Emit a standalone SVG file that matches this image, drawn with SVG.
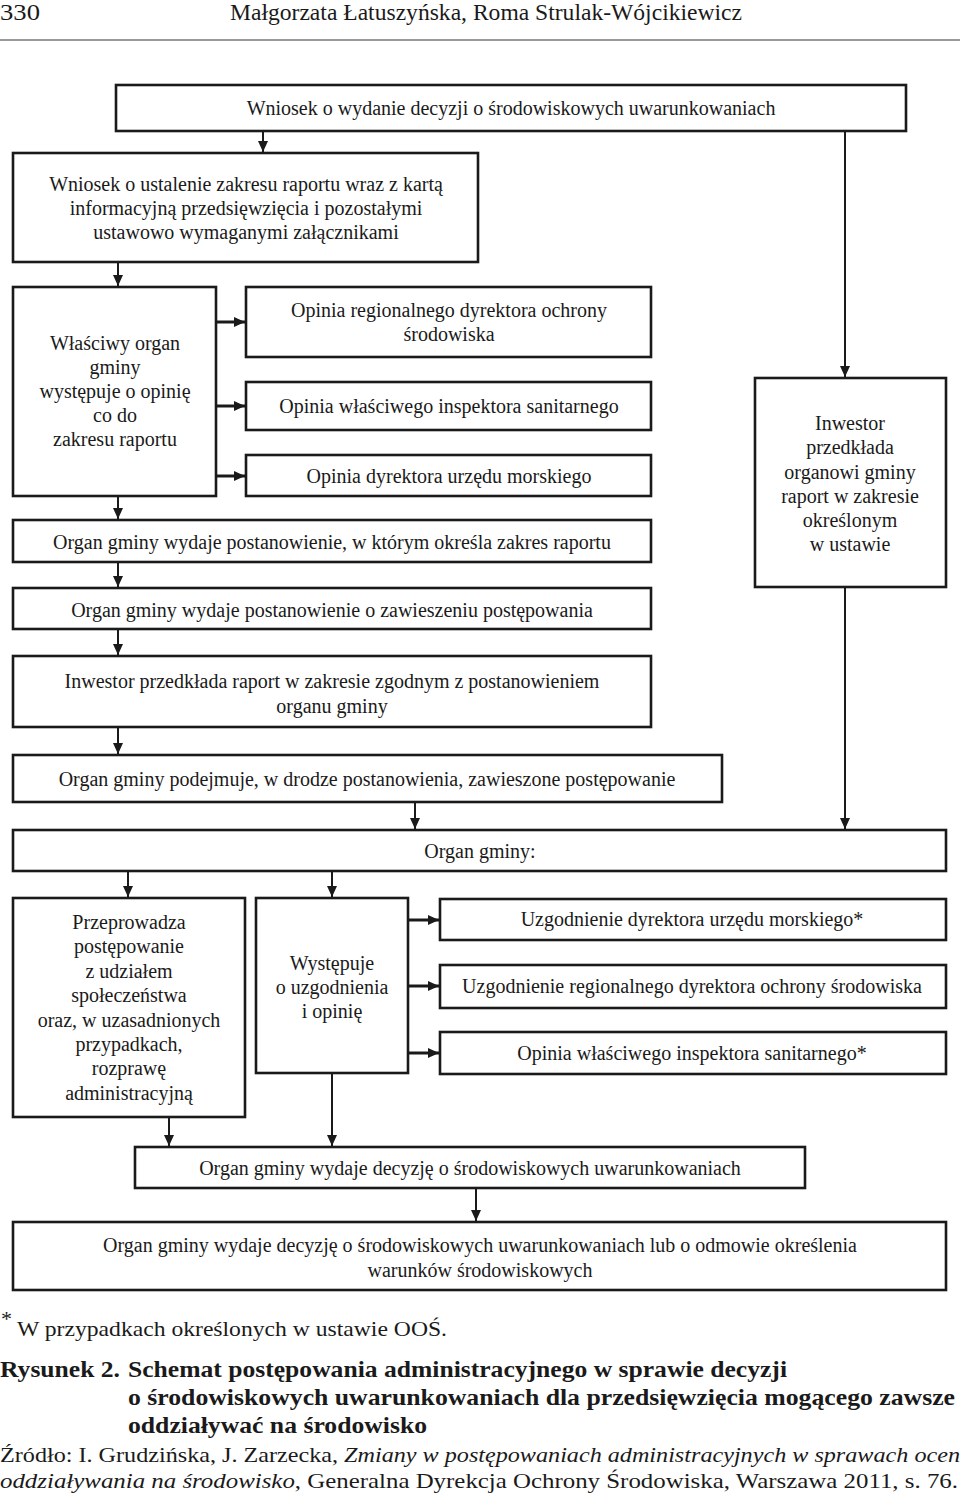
<svg xmlns="http://www.w3.org/2000/svg" width="960" height="1495" viewBox="0 0 960 1495">
<defs>
<marker id="ah" markerUnits="userSpaceOnUse" markerWidth="12" markerHeight="12" viewBox="0 0 12 12" refX="11" refY="6" orient="auto">
<path d="M0,1 L11,6 L0,11 Z" fill="#1a1a1a"/>
</marker>
</defs>
<style>
.box{fill:#fff;stroke:#1a1a1a;stroke-width:2.6}
.t{font-family:"Liberation Serif",serif;font-size:20px;fill:#1a1a1a;text-anchor:middle}
.c{stroke:#1a1a1a;stroke-width:2;fill:none;marker-end:url(#ah)}
.ch{stroke:#1a1a1a;stroke-width:3;fill:none;marker-end:url(#ah)}
.hd{font-family:"Liberation Serif",serif;font-size:23px;fill:#1a1a1a}
.cap{font-family:"Liberation Serif",serif;font-size:24px;font-weight:bold;fill:#1a1a1a}
.src{font-family:"Liberation Serif",serif;font-size:22px;fill:#1a1a1a}
</style>
<rect width="960" height="1495" fill="#fff"/>
<g id="header">
<text class="hd" x="0" y="20" textLength="40" lengthAdjust="spacingAndGlyphs">330</text>
<text class="hd" x="230" y="20" textLength="512" lengthAdjust="spacingAndGlyphs">Małgorzata Łatuszyńska, Roma Strulak-Wójcikiewicz</text>
<line x1="0" y1="40" x2="960" y2="40" stroke="#777" stroke-width="1.5"/>
</g>
<g id="connectors">
<line class="c" x1="263" y1="131" x2="263" y2="152"/>
<line class="c" x1="845" y1="131" x2="845" y2="377"/>
<line class="c" x1="118" y1="262" x2="118" y2="286"/>
<line class="ch" x1="216" y1="322" x2="245" y2="322"/>
<line class="ch" x1="216" y1="406" x2="245" y2="406"/>
<line class="ch" x1="216" y1="476" x2="245" y2="476"/>
<line class="c" x1="118" y1="496" x2="118" y2="519"/>
<line class="c" x1="118" y1="562" x2="118" y2="587"/>
<line class="c" x1="118" y1="629" x2="118" y2="655"/>
<line class="c" x1="118" y1="727" x2="118" y2="754"/>
<line class="c" x1="415" y1="802" x2="415" y2="829"/>
<line class="c" x1="845" y1="587" x2="845" y2="829"/>
<line class="c" x1="128" y1="871" x2="128" y2="897"/>
<line class="c" x1="332" y1="871" x2="332" y2="897"/>
<line class="ch" x1="408" y1="920" x2="439" y2="920"/>
<line class="ch" x1="408" y1="986" x2="439" y2="986"/>
<line class="ch" x1="408" y1="1053" x2="439" y2="1053"/>
<line class="c" x1="169" y1="1117" x2="169" y2="1146"/>
<line class="c" x1="332" y1="1073" x2="332" y2="1146"/>
<line class="c" x1="476" y1="1188" x2="476" y2="1221"/>
</g>
<g id="n1"><rect class="box" x="116" y="85" width="790" height="46"/><text class="t" x="511" y="115">Wniosek o wydanie decyzji o środowiskowych uwarunkowaniach</text></g>
<g id="n2"><rect class="box" x="13" y="153" width="465" height="109"/>
<text class="t" x="246" y="191">Wniosek o ustalenie zakresu raportu wraz z kartą</text>
<text class="t" x="246" y="215">informacyjną przedsięwzięcia i pozostałymi</text>
<text class="t" x="246" y="239">ustawowo wymaganymi załącznikami</text></g>
<g id="n3"><rect class="box" x="13" y="287" width="203" height="209"/>
<text class="t" x="115" y="350">Właściwy organ</text>
<text class="t" x="115" y="374">gminy</text>
<text class="t" x="115" y="398">występuje o opinię</text>
<text class="t" x="115" y="422">co do</text>
<text class="t" x="115" y="446">zakresu raportu</text></g>
<g id="n4"><rect class="box" x="246" y="287" width="405" height="70"/>
<text class="t" x="449" y="317">Opinia regionalnego dyrektora ochrony</text>
<text class="t" x="449" y="341">środowiska</text></g>
<g id="n5"><rect class="box" x="246" y="382" width="405" height="48"/><text class="t" x="449" y="413">Opinia właściwego inspektora sanitarnego</text></g>
<g id="n6"><rect class="box" x="246" y="455" width="405" height="41"/><text class="t" x="449" y="483">Opinia dyrektora urzędu morskiego</text></g>
<g id="n7"><rect class="box" x="13" y="520" width="638" height="42"/><text class="t" x="332" y="549">Organ gminy wydaje postanowienie, w którym określa zakres raportu</text></g>
<g id="n8"><rect class="box" x="13" y="588" width="638" height="41"/><text class="t" x="332" y="617">Organ gminy wydaje postanowienie o zawieszeniu postępowania</text></g>
<g id="n9"><rect class="box" x="13" y="656" width="638" height="71"/>
<text class="t" x="332" y="688">Inwestor przedkłada raport w zakresie zgodnym z postanowieniem</text>
<text class="t" x="332" y="713">organu gminy</text></g>
<g id="n10"><rect class="box" x="13" y="755" width="709" height="47"/><text class="t" x="367" y="786">Organ gminy podejmuje, w drodze postanowienia, zawieszone postępowanie</text></g>
<g id="n11"><rect class="box" x="755" y="378" width="191" height="209"/>
<text class="t" x="850" y="430">Inwestor</text>
<text class="t" x="850" y="454">przedkłada</text>
<text class="t" x="850" y="479">organowi gminy</text>
<text class="t" x="850" y="503">raport w zakresie</text>
<text class="t" x="850" y="527">określonym</text>
<text class="t" x="850" y="551">w ustawie</text></g>
<g id="n12"><rect class="box" x="13" y="830" width="933" height="41"/><text class="t" x="480" y="858">Organ gminy:</text></g>
<g id="n13"><rect class="box" x="13" y="898" width="232" height="219"/>
<text class="t" x="129" y="929">Przeprowadza</text>
<text class="t" x="129" y="953">postępowanie</text>
<text class="t" x="129" y="978">z udziałem</text>
<text class="t" x="129" y="1002">społeczeństwa</text>
<text class="t" x="129" y="1027">oraz, w uzasadnionych</text>
<text class="t" x="129" y="1051">przypadkach,</text>
<text class="t" x="129" y="1075">rozprawę</text>
<text class="t" x="129" y="1100">administracyjną</text></g>
<g id="n14"><rect class="box" x="256" y="898" width="152" height="175"/>
<text class="t" x="332" y="970">Występuje</text>
<text class="t" x="332" y="994">o uzgodnienia</text>
<text class="t" x="332" y="1018">i opinię</text></g>
<g id="n15"><rect class="box" x="440" y="899" width="506" height="41"/><text class="t" x="692" y="926">Uzgodnienie dyrektora urzędu morskiego*</text></g>
<g id="n16"><rect class="box" x="440" y="965" width="506" height="43"/><text class="t" x="692" y="993">Uzgodnienie regionalnego dyrektora ochrony środowiska</text></g>
<g id="n17"><rect class="box" x="440" y="1032" width="506" height="42"/><text class="t" x="692" y="1060">Opinia właściwego inspektora sanitarnego*</text></g>
<g id="n18"><rect class="box" x="135" y="1147" width="670" height="41"/><text class="t" x="470" y="1175">Organ gminy wydaje decyzję o środowiskowych uwarunkowaniach</text></g>
<g id="n19"><rect class="box" x="13" y="1222" width="933" height="68"/>
<text class="t" x="480" y="1252">Organ gminy wydaje decyzję o środowiskowych uwarunkowaniach lub o odmowie określenia</text>
<text class="t" x="480" y="1277">warunków środowiskowych</text></g>
<g id="footer">
<text class="src" x="1" y="1326" font-size="12px">*</text>
<text class="src" x="17" y="1336" textLength="430" lengthAdjust="spacingAndGlyphs">W przypadkach określonych w ustawie OOŚ.</text>
<text class="cap" x="0" y="1377" textLength="120" lengthAdjust="spacingAndGlyphs">Rysunek 2.</text>
<text class="cap" x="128" y="1377" textLength="659" lengthAdjust="spacingAndGlyphs">Schemat postępowania administracyjnego w sprawie decyzji</text>
<text class="cap" x="128" y="1405" textLength="827" lengthAdjust="spacingAndGlyphs">o środowiskowych uwarunkowaniach dla przedsięwzięcia mogącego zawsze</text>
<text class="cap" x="128" y="1433" textLength="299" lengthAdjust="spacingAndGlyphs">oddziaływać na środowisko</text>
<text class="src" x="0" y="1462" textLength="960" lengthAdjust="spacingAndGlyphs">Źródło: I. Grudzińska, J. Zarzecka, <tspan font-style="italic">Zmiany w postępowaniach administracyjnych w sprawach ocen</tspan></text>
<text class="src" x="0" y="1488" textLength="958" lengthAdjust="spacingAndGlyphs"><tspan font-style="italic">oddziaływania na środowisko</tspan>, Generalna Dyrekcja Ochrony Środowiska, Warszawa 2011, s. 76.</text>
</g>
</svg>
